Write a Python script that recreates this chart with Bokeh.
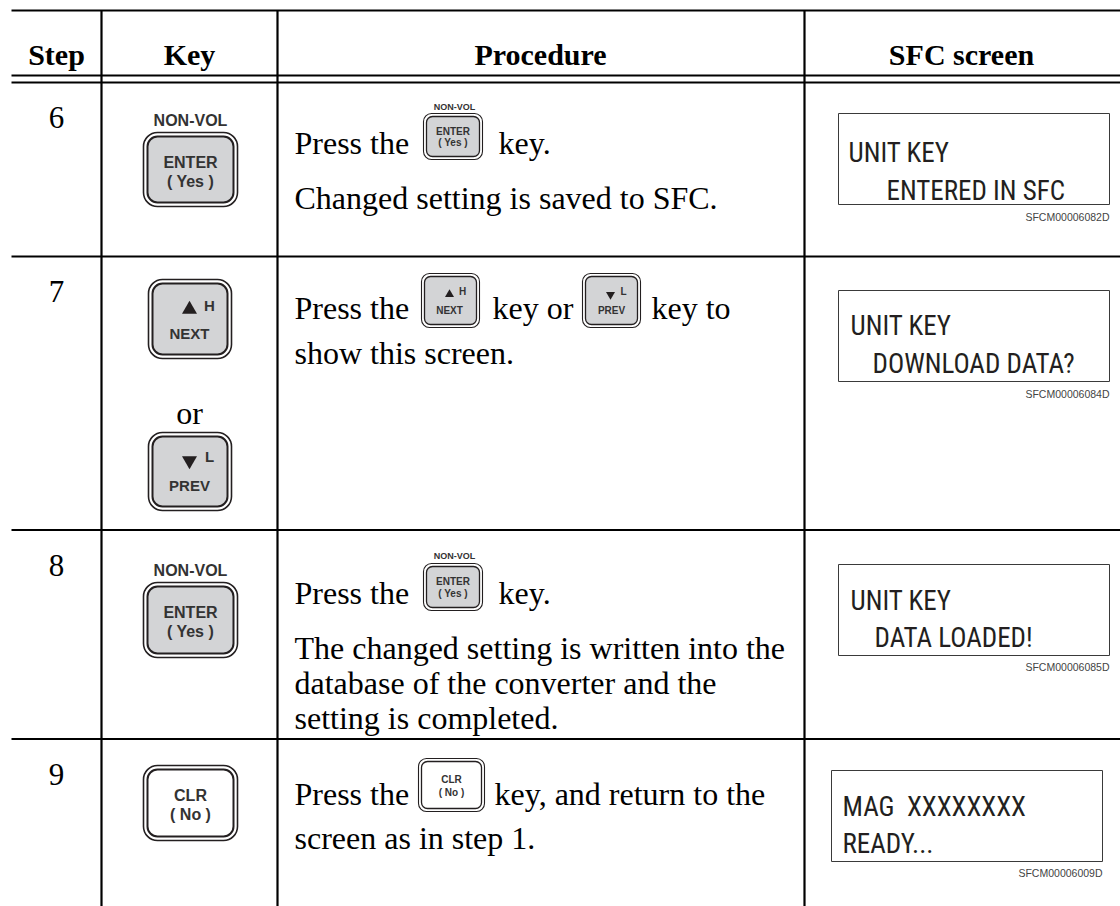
from bokeh.plotting import figure
from bokeh.models import Range1d
from bokeh.core.properties import value
from bokeh.embed import file_html
from bokeh.resources import INLINE

# ---------------- table content ----------------
headers = ["Step", "Key", "Procedure", "SFC screen"]
steps = ["6", "7", "8", "9"]

nonvol_label = "NON-VOL"
enter_labels = ["ENTER", "( Yes )"]
clr_labels = ["CLR", "( No )"]
next_labels = ["NEXT", "H"]
prev_labels = ["PREV", "L"]
or_label = "or"

proc_row6 = ["Press the", "key.", "Changed setting is saved to SFC."]
proc_row7 = ["Press the", "key or", "key to", "show this screen."]
proc_row8 = ["Press the", "key.", "The changed setting is written into the",
             "database of the converter and the", "setting is completed."]
proc_row9 = ["Press the", "key, and return to the", "screen as in step 1."]

screen_line1 = ["UNIT KEY", "UNIT KEY", "UNIT KEY", "MAG\u00a0 XXXXXXXX"]
screen_line2 = ["ENTERED IN SFC", "DOWNLOAD DATA?", "DATA LOADED!", "READY..."]
screen_codes = ["SFCM00006082D", "SFCM00006084D", "SFCM00006085D", "SFCM00006009D"]

# ---------------- layout (picture pixels) ----------------
W, H = 1120, 906
X_LEFT, X_RIGHT = 11, W
Y_TOP, Y_BOTTOM = 10, H
HDR_LINES = [75, 82]
ROW_LINES = [256, 529.5, 738.5]
COL_LINES = [101, 277, 804]
HDR_X = [56, 189, 540, 961]
HDR_BASE = 54
STEP_BASE = [117, 291, 564.5, 773.5]

INK = "#231f20"
KEY_FILL = "#d3d4d6"
SERIF = "Liberation Serif"
SANS = "Liberation Sans"
NARROW = "Roboto Condensed, DejaVu Sans Condensed, Liberation Sans Narrow, Liberation Sans"
BODY = 32
LCD = 27

p = figure(width=W, height=H, x_range=Range1d(0, W), y_range=Range1d(H, 0),
           output_backend="svg", toolbar_location=None, min_border=0)
p.axis.visible = False
p.grid.visible = False
p.outline_line_color = None
p.background_fill_color = "white"
p.border_fill_color = "white"


def txt(xs, ys, texts, size, font=SANS, style="normal", align="center",
        baseline="middle", color=INK):
    p.text(x=xs, y=ys, text=texts, text_font=value(font),
           text_font_size=value(f"{size}px"), text_font_style=style,
           text_align=align, text_baseline=baseline, text_color=color)


def key_shape(l, r, t, b, fill, big=True):
    inset = 4 if big else 3
    p.quad(left=[l], right=[r], top=[t], bottom=[b], fill_color="white",
           line_color=INK, line_width=1.6 if big else 1.1,
           border_radius=14 if big else 8)
    p.quad(left=[l + inset], right=[r - inset], top=[t + inset], bottom=[b - inset],
           fill_color=fill, line_color=INK, line_width=2 if big else 1.3,
           border_radius=10 if big else 6)


# ---------------- grid lines ----------------
hy = [Y_TOP] + HDR_LINES + ROW_LINES
p.segment(x0=[X_LEFT] * len(hy), x1=[X_RIGHT] * len(hy), y0=hy, y1=hy,
          line_color="black", line_width=2.2)
p.segment(x0=COL_LINES, x1=COL_LINES, y0=[Y_TOP] * 3, y1=[Y_BOTTOM] * 3,
          line_color="black", line_width=2.2)

# ---------------- header + step numbers ----------------
txt(HDR_X, [HDR_BASE] * 4, headers, 30, font=SERIF, style="bold",
    baseline="alphabetic", color="black")
txt([56] * 4, STEP_BASE, steps, 31, font=SERIF, baseline="alphabetic", color="black")

# ---------------- Key column ----------------
# step 6: NON-VOL ENTER
key_shape(143, 237, 132, 206, KEY_FILL)
txt([190], [120], [nonvol_label], 16, style="bold", color="#333333")
txt([190, 190], [162, 181], enter_labels, 16, style="bold", color="#333333")
# step 7: NEXT / or / PREV
key_shape(148, 231, 279, 358, KEY_FILL)
p.scatter(x=[189], y=[309], marker="triangle", size=15, fill_color=INK, line_color=None)
txt([189, 209], [333, 305], next_labels, 15, style="bold", color="#333333")
key_shape(148, 231, 432, 510, KEY_FILL)
p.scatter(x=[189], y=[460], marker="inverted_triangle", size=15, fill_color=INK, line_color=None)
txt([189, 209], [485, 456], prev_labels, 15, style="bold", color="#333333")
txt([189], [412], [or_label], BODY, font=SERIF, baseline="alphabetic", color="black")
# step 8: NON-VOL ENTER
key_shape(143, 237, 582, 657, KEY_FILL)
txt([190], [570], [nonvol_label], 16, style="bold", color="#333333")
txt([190, 190], [612, 631], enter_labels, 16, style="bold", color="#333333")
# step 9: CLR
key_shape(143, 237, 765, 840, "white")
txt([190, 190], [795, 814], clr_labels, 16, style="bold", color="#333333")

# ---------------- Procedure column ----------------
PX = 294
# row 6
txt([PX, 498, PX], [142, 142, 197], proc_row6, BODY, font=SERIF, align="left",
    baseline="alphabetic", color="black")
key_shape(423, 482, 113, 159, KEY_FILL, big=False)
txt([454], [106], [nonvol_label], 9, style="bold", color="#333333")
txt([452.5, 452.5], [131, 142], enter_labels, 10, style="bold", color="#333333")
# row 7
txt([PX, 492, 651, PX], [307, 307, 307, 352], proc_row7, BODY, font=SERIF, align="left",
    baseline="alphabetic", color="black")
key_shape(421, 479, 273, 327, KEY_FILL, big=False)
p.scatter(x=[449], y=[294], marker="triangle", size=9, fill_color=INK, line_color=None)
txt([449, 462], [310, 291], next_labels, 10, style="bold", color="#333333")
key_shape(582, 640, 273, 327, KEY_FILL, big=False)
p.scatter(x=[610], y=[294], marker="inverted_triangle", size=9, fill_color=INK, line_color=None)
txt([611, 623], [310, 291], prev_labels, 10, style="bold", color="#333333")
# row 8
txt([PX, 498, PX, PX, PX], [592, 592, 647, 682, 717], proc_row8, BODY, font=SERIF,
    align="left", baseline="alphabetic", color="black")
key_shape(423, 482, 563, 610, KEY_FILL, big=False)
txt([454], [555], [nonvol_label], 9, style="bold", color="#333333")
txt([452.5, 452.5], [581, 593], enter_labels, 10, style="bold", color="#333333")
# row 9
txt([PX, 494, PX], [793, 793, 837], proc_row9, BODY, font=SERIF, align="left",
    baseline="alphabetic", color="black")
key_shape(418, 484, 758, 811, "white", big=False)
txt([451, 451], [779, 792], clr_labels, 10, style="bold", color="#333333")

# ---------------- SFC screen column ----------------
box_l = [838, 838, 838, 831]
box_r = [1109, 1109, 1109, 1102]
box_t = [113, 290, 564, 770]
box_b = [204, 381, 655, 861]
p.quad(left=box_l, right=box_r, top=box_t, bottom=box_b, fill_color="white",
       line_color="#3a3a3a", line_width=1)
txt([848, 850, 850, 842], [152, 325, 600, 806], screen_line1, LCD, font=NARROW,
    align="left", baseline="alphabetic", color=INK)
txt([886, 872, 874, 842], [190, 363, 637, 843], screen_line2, LCD, font=NARROW,
    align="left", baseline="alphabetic", color=INK)
txt(box_r, [216, 393, 666, 872], screen_codes, 10.5, font=SANS, align="right",
    baseline="alphabetic", color="#444444")

open("out.html", "w").write(file_html(p, INLINE))
